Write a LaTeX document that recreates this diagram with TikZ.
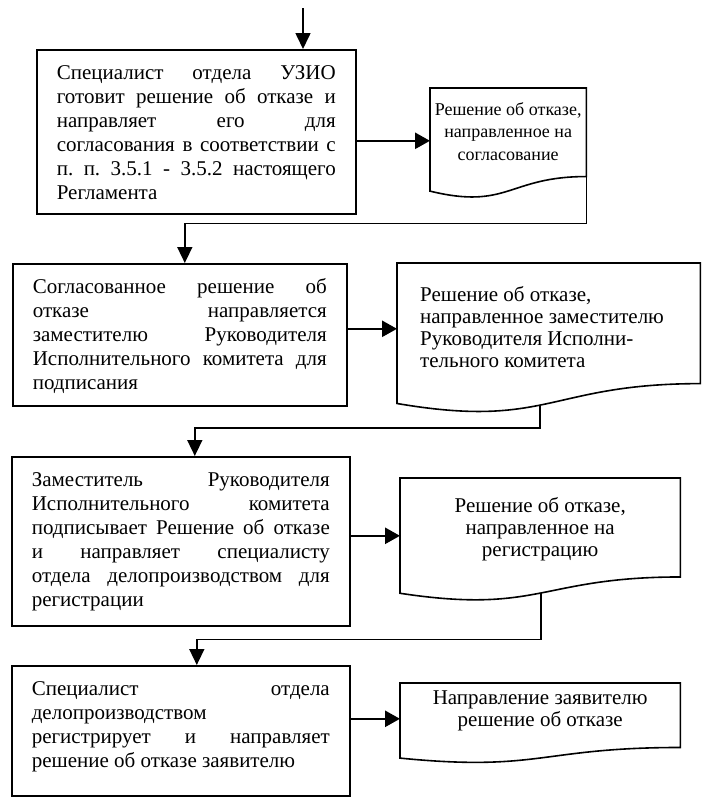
\documentclass[tikz,border=0pt]{standalone}
\usepackage{fontspec}
\setmainfont{Liberation Serif}
\usetikzlibrary{calc,positioning,arrows.meta}
\frenchspacing
\tolerance=10000
\hbadness=10000
\hyphenpenalty=10000

% document shape: name, x, y, width, height, pos of the exit point on the wave
\newcommand{\docshape}[6]{%
    \node[docframe,minimum width=#4pt,minimum height=#5pt] (#1) at (#2,#3) {};
    \draw[outline] (#1.north west) -- (#1.north east)
        -- ($(#1.north east)!0.802!(#1.south east)$)
        .. controls ($(#1.north)!0.802!(#1.south)$) and ($(#1.north)!1.107!(#1.south)$)
        .. ($(#1.north west)!0.934!(#1.south west)$) coordinate[pos=#6] (#1-out)
        -- cycle;
}

\begin{document}
\begin{tikzpicture}[x=1pt,y=-1pt,
        every node/.style={font=\fontsize{21}{24}\selectfont},
        action/.style={draw,line width=1.6pt,anchor=north west,inner xsep=20pt,inner ysep=0pt},
        docframe/.style={anchor=north west,inner sep=0pt},
        outline/.style={line width=1.6pt},
        doctext/.style={inner sep=0pt,font=\fontsize{21}{22}\selectfont},
        flow/.style={line width=1.6pt,-{Triangle[length=16pt,width=15pt]}},
        feed/.style={line width=2.6pt,-{Triangle[length=15pt,width=16pt]}}]
    \useasboundingbox (0,0) rectangle (702,798);

    \node[action] (b1) at (36,49) {
        \parbox[c][164pt][t]{279pt}{\vspace*{13pt}\strut
            Специалист отдела УЗИО\linebreak
            готовит решение об отказе и\linebreak
            направляет его для\linebreak
            согласования в соответствии с\linebreak
            п. п. 3.5.1 - 3.5.2 настоящего\linebreak
            Регламента}
    };
    \node[action] (b2) at (12,263) {
        \parbox[c][142pt][t]{294pt}{\vspace*{13pt}\strut
            Согласованное решение об\linebreak
            отказе направляется\linebreak
            заместителю Руководителя\linebreak
            Исполнительного комитета для\linebreak
            подписания}
    };
    \node[action] (b3) at (11,456) {
        \parbox[c][169pt][t]{298pt}{\vspace*{13pt}\strut
            Заместитель Руководителя\linebreak
            Исполнительного комитета\linebreak
            подписывает Решение об отказе\linebreak
            и направляет специалисту\linebreak
            отдела делопроизводством для\linebreak
            регистрации}
    };
    \node[action] (b4) at (11,665) {
        \parbox[c][130pt][t]{298pt}{\vspace*{13pt}\strut
            Специалист отдела\linebreak
            делопроизводством\linebreak
            регистрирует и направляет\linebreak
            решение об отказе заявителю}
    };

    \docshape{d1}{430}{88}{156}{110}{0}
    \docshape{d2}{397}{263}{303}{150}{0.538}
    \docshape{d3}{400}{478}{280}{123}{0.495}
    \docshape{d4}{400}{683}{280}{80}{0.5}

    \node[doctext,align=center,font=\fontsize{18}{22.5}\selectfont,below=14pt of d1.north] (t1) {
        Решение об отказе,\\
        направленное на\\
        согласование};
    \node[doctext,align=left,anchor=north west] (t2) at ([xshift=23pt,yshift=-23pt]d2.north west) {
        Решение об отказе,\\
        направленное заместителю\\
        Руководителя Исполни-\\
        тельного комитета};
    \node[doctext,align=center,below=19pt of d3.north] (t3) {
        Решение об отказе,\\
        направленное на\\
        регистрацию};
    \node[doctext,align=center,below=8pt of d4.north] (t4) {
        Направление заявителю\\
        решение об отказе};

    \coordinate (entry) at (303,8);
    \draw[flow] (entry) -- (entry |- b1.north);

    \draw[feed] ([yshift=-9pt]b1.east) -- ([yshift=-9pt]b1.east -| d1.west);
    \draw[feed] ([yshift=6pt]b2.east) -- ([yshift=6pt]b2.east -| d2.west);
    \draw[feed] ([yshift=5.5pt]b3.east) -- ([yshift=5.5pt]b3.east -| d3.west);
    \draw[feed] ([yshift=12pt]b4.east) -- ([yshift=12pt]b4.east -| d4.west);

    \draw[flow] (d1-out) -- ++(0,47) -| ([xshift=5pt]b2.north);
    \draw[flow] (d2-out) -- ++(0,23) -| ([xshift=14pt]b3.north);
    \draw[flow] (d3-out) -- ++(0,46.5) -| ([xshift=16pt]b4.north);
\end{tikzpicture}
\end{document}
